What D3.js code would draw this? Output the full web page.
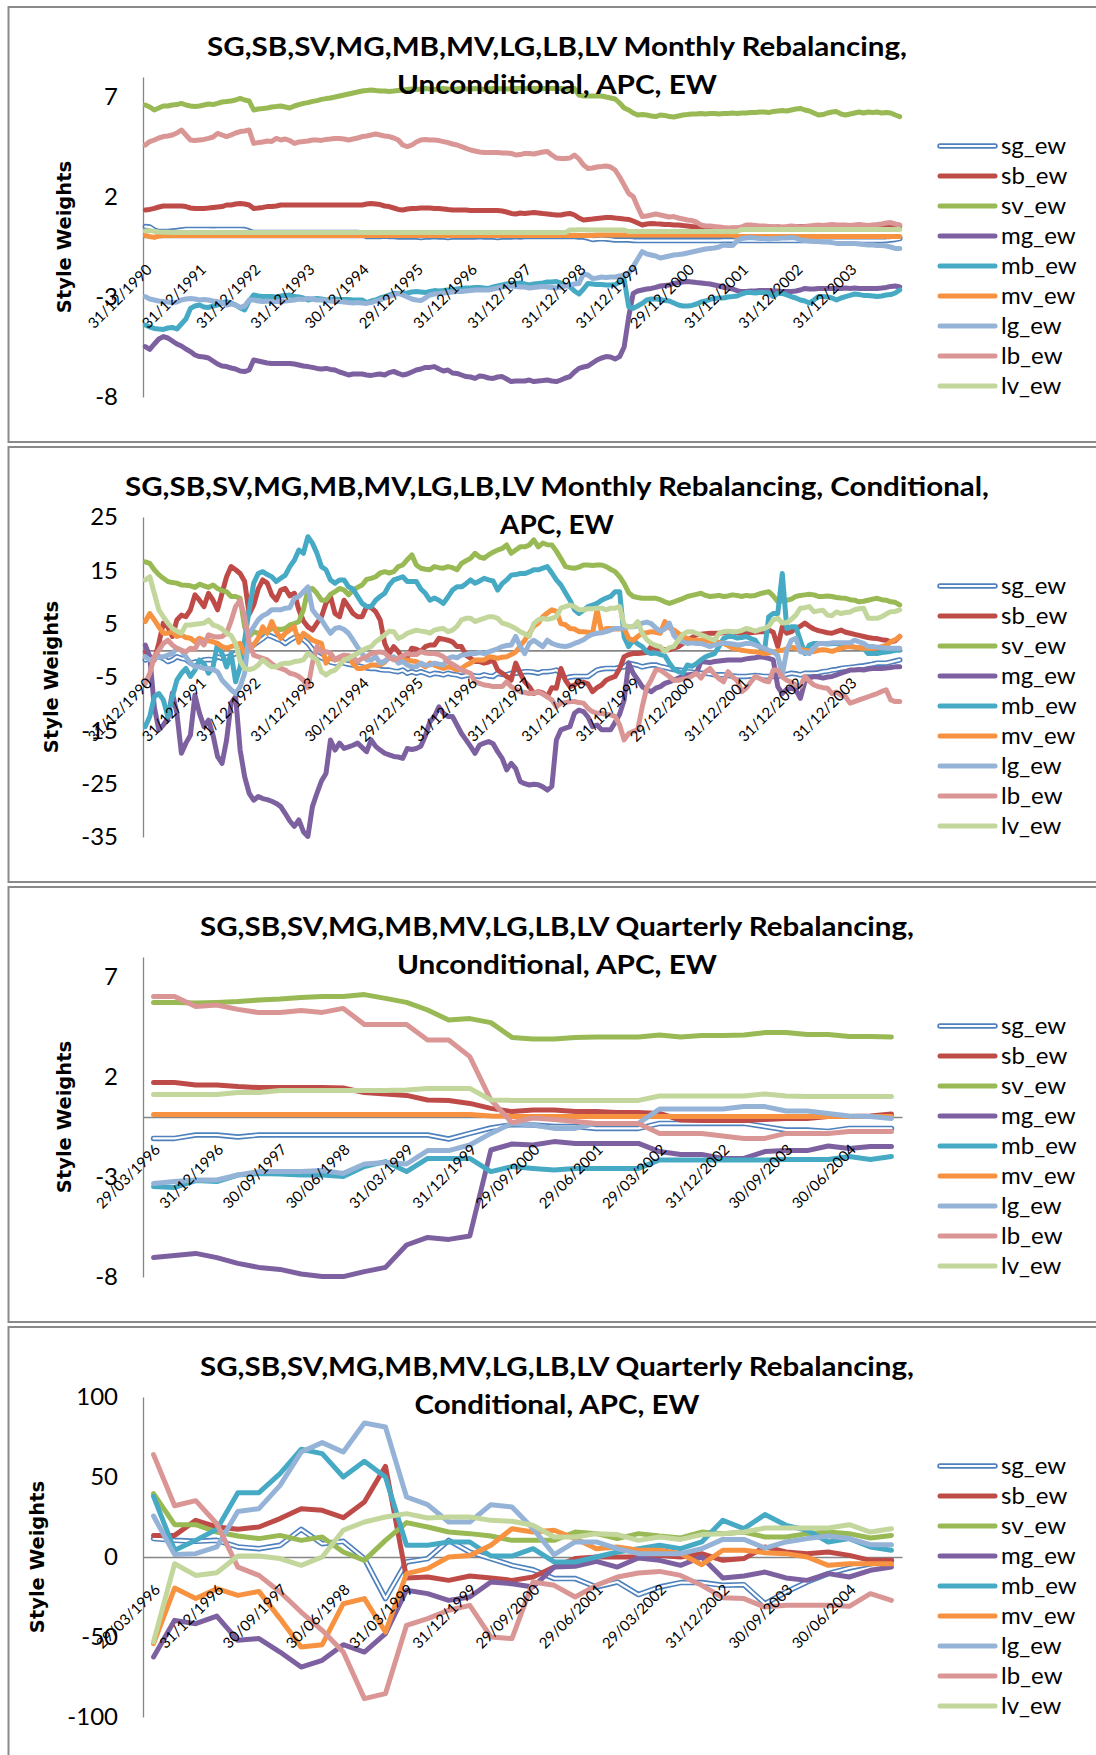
<!DOCTYPE html>
<html>
<head>
<meta charset="utf-8">
<script src="https://cdn.jsdelivr.net/npm/d3@7"></script>
<style>
  body { margin: 0; background: #fff; }
  svg { display: block; }
</style>
</head>
<body>
<svg id="chart" width="1096" height="1755"></svg>
<script>
// ---------- series names, colours, tick labels ----------
const seriesNames = ["sg_ew", "sb_ew", "sv_ew", "mg_ew", "mb_ew", "mv_ew", "lg_ew", "lb_ew", "lv_ew"];
const seriesColors = ["#4F81BD", "#BE4B48", "#98B954", "#7D60A0", "#46AAC5", "#F69240", "#95B3D7", "#D99694", "#C3D69B"];

const monthlyTickLabels = ["31/12/1990", "31/12/1991", "31/12/1992", "31/12/1993", "30/12/1994", "29/12/1995",
  "31/12/1996", "31/12/1997", "31/12/1998", "31/12/1999", "29/12/2000", "31/12/2001", "31/12/2002", "31/12/2003"];
const quarterlyTickLabels = ["29/03/1996", "31/12/1996", "30/09/1997", "30/06/1998", "31/03/1999", "31/12/1999",
  "29/09/2000", "29/06/2001", "29/03/2002", "31/12/2002", "30/09/2003", "30/06/2004"];

// ---------- monthly rebalancing, unconditional (Dec 1990 .. Nov 2004, one row per year) ----------
const mu_sg = [
  0.52,0.5,0.35,0.27,0.27,0.28,0.3,0.32,0.35,0.38,0.38,0.38,
  0.38,0.38,0.38,0.37,0.38,0.38,0.38,0.38,0.38,0.38,0.37,0.3,
  0.22,0.22,0.22,0.22,0.22,0.22,0.22,0.22,0.22,0.22,0.22,0.22,
  0.22,0.22,0.22,0.22,0.22,0.22,0.22,0.22,0.22,0.22,0.22,0.22,
  0.2,0.02,0.02,0.02,0.02,0.05,0.02,0.02,0,0,0,0,
  0,-0.02,0,0,0.02,0,0,-0.02,0,0,0,0,
  0,0,0.02,0,0,0,-0.02,0,0,0,0.02,0,
  0.02,0.02,0.02,0.02,0.02,0.02,0.02,0.02,0.02,0.02,0.02,0.02,
  0,0,-0.05,-0.12,-0.1,-0.08,-0.1,-0.12,-0.15,-0.15,-0.15,-0.15,
  -0.17,-0.18,-0.18,-0.18,-0.18,-0.18,-0.18,-0.18,-0.18,-0.18,-0.18,-0.18,
  -0.18,-0.18,-0.18,-0.18,-0.18,-0.18,-0.18,-0.18,-0.17,-0.17,-0.17,-0.18,
  -0.18,-0.18,-0.18,-0.18,-0.18,-0.18,-0.18,-0.18,-0.18,-0.18,-0.18,-0.18,
  -0.18,-0.18,-0.18,-0.18,-0.18,-0.18,-0.18,-0.18,-0.18,-0.18,-0.18,-0.18,
  -0.18,-0.18,-0.18,-0.18,-0.18,-0.18,-0.18,-0.18,-0.17,-0.15,-0.12,-0.08];
const mu_sb = [
  1.35,1.38,1.43,1.5,1.55,1.55,1.55,1.55,1.55,1.52,1.45,1.43,
  1.43,1.43,1.45,1.48,1.5,1.52,1.6,1.6,1.65,1.68,1.65,1.6,
  1.43,1.45,1.48,1.52,1.52,1.55,1.6,1.6,1.6,1.6,1.6,1.6,
  1.6,1.6,1.6,1.6,1.6,1.6,1.6,1.6,1.6,1.6,1.6,1.6,
  1.6,1.65,1.68,1.65,1.62,1.55,1.52,1.45,1.38,1.35,1.4,1.43,
  1.43,1.45,1.45,1.45,1.43,1.43,1.4,1.37,1.35,1.35,1.35,1.35,
  1.33,1.33,1.33,1.32,1.32,1.32,1.32,1.3,1.25,1.18,1.15,1.2,
  1.18,1.2,1.22,1.2,1.17,1.15,1.12,1.1,1.1,1.15,1.18,1.1,
  0.95,0.85,0.88,0.9,0.93,0.95,0.97,0.98,0.95,0.93,0.9,0.88,
  0.8,0.7,0.6,0.65,0.68,0.66,0.65,0.63,0.62,0.6,0.6,0.57,
  0.55,0.52,0.5,0.48,0.45,0.43,0.43,0.43,0.43,0.43,0.45,0.45,
  0.45,0.45,0.47,0.47,0.48,0.5,0.5,0.5,0.48,0.47,0.47,0.48,
  0.5,0.52,0.52,0.5,0.5,0.48,0.5,0.5,0.52,0.52,0.5,0.5,
  0.5,0.5,0.52,0.52,0.5,0.5,0.5,0.52,0.52,0.55,0.55,0.55];
const mu_sv = [
  6.6,6.5,6.35,6.45,6.55,6.55,6.6,6.62,6.68,6.6,6.55,6.52,
  6.55,6.6,6.65,6.62,6.68,6.75,6.77,6.8,6.85,6.93,6.85,6.8,
  6.35,6.4,6.42,6.45,6.5,6.52,6.55,6.5,6.45,6.55,6.62,6.68,
  6.72,6.78,6.82,6.88,6.92,6.95,7.0,7.05,7.1,7.15,7.2,7.25,
  7.3,7.33,7.35,7.32,7.3,7.3,7.28,7.3,7.33,7.35,7.38,7.4,
  7.38,7.4,7.42,7.4,7.38,7.4,7.42,7.4,7.38,7.4,7.42,7.4,
  7.4,7.42,7.4,7.38,7.4,7.42,7.4,7.42,7.4,7.42,7.42,7.43,
  7.43,7.42,7.43,7.42,7.43,7.42,7.42,7.43,7.42,7.4,7.42,7.42,
  7.1,7.05,7.05,7.05,7.05,7.05,7.0,6.95,6.9,6.7,6.45,6.35,
  6.2,6.1,6.12,6.1,6.05,6.02,6.1,6.08,6.02,6.0,6.05,6.1,
  6.12,6.15,6.15,6.18,6.15,6.18,6.18,6.15,6.18,6.18,6.2,6.18,
  6.2,6.2,6.22,6.22,6.25,6.25,6.22,6.28,6.3,6.32,6.3,6.35,
  6.4,6.43,6.35,6.3,6.2,6.1,6.12,6.2,6.25,6.27,6.15,6.1,
  6.15,6.2,6.25,6.2,6.25,6.22,6.25,6.2,6.22,6.2,6.1,6.02];
const mu_mg = [
  -5.48,-5.62,-5.35,-5.1,-4.98,-5.05,-5.2,-5.35,-5.45,-5.6,-5.73,-5.9,
  -5.98,-6.0,-6.05,-6.2,-6.35,-6.45,-6.48,-6.55,-6.6,-6.7,-6.73,-6.65,
  -6.15,-6.2,-6.25,-6.3,-6.32,-6.32,-6.32,-6.32,-6.32,-6.35,-6.4,-6.45,
  -6.48,-6.52,-6.57,-6.6,-6.57,-6.62,-6.65,-6.75,-6.82,-6.9,-6.85,-6.85,
  -6.85,-6.9,-6.92,-6.88,-6.85,-6.9,-6.78,-6.72,-6.82,-6.9,-6.85,-6.75,
  -6.65,-6.6,-6.52,-6.52,-6.48,-6.6,-6.7,-6.65,-6.8,-6.82,-6.9,-6.98,
  -7.0,-7.07,-6.95,-6.98,-7.05,-7.07,-7.0,-6.98,-7.1,-7.23,-7.2,-7.2,
  -7.2,-7.15,-7.23,-7.2,-7.18,-7.15,-7.2,-7.23,-7.15,-7.05,-6.98,-6.75,
  -6.57,-6.5,-6.45,-6.3,-6.15,-6.05,-5.98,-6.0,-6.1,-5.98,-5.5,-4.0,
  -2.82,-2.7,-2.65,-2.6,-2.57,-2.52,-2.45,-2.42,-2.4,-2.32,-2.28,-2.25,
  -2.23,-2.25,-2.28,-2.3,-2.33,-2.35,-2.4,-2.45,-2.52,-2.55,-2.6,-2.68,
  -2.73,-2.72,-2.7,-2.7,-2.68,-2.68,-2.67,-2.7,-2.7,-2.72,-2.73,-2.72,
  -2.7,-2.65,-2.57,-2.6,-2.6,-2.58,-2.57,-2.57,-2.57,-2.57,-2.57,-2.55,
  -2.57,-2.55,-2.57,-2.57,-2.57,-2.57,-2.57,-2.55,-2.52,-2.47,-2.45,-2.5];
const mu_mb = [
  -4.4,-4.5,-4.57,-4.6,-4.62,-4.55,-4.52,-4.6,-4.35,-4.1,-3.57,-3.45,
  -3.4,-3.5,-3.52,-3.45,-3.4,-3.3,-3.23,-3.3,-3.4,-3.55,-3.65,-3.2,
  -2.9,-2.95,-2.98,-2.97,-2.98,-3.0,-2.95,-2.92,-2.9,-2.98,-3.0,-3.05,
  -3.15,-3.1,-3.08,-3.1,-3.15,-3.12,-3.1,-3.12,-3.12,-3.13,-3.15,-3.15,
  -3.15,-3.28,-3.2,-3.15,-3.05,-2.98,-2.9,-2.82,-2.82,-2.82,-2.8,-2.75,
  -2.73,-2.75,-2.78,-2.72,-2.68,-2.7,-2.68,-2.65,-2.65,-2.6,-2.57,-2.55,
  -2.55,-2.52,-2.52,-2.55,-2.57,-2.5,-2.45,-2.4,-2.35,-2.32,-2.32,-2.3,
  -2.35,-2.4,-2.35,-2.32,-2.3,-2.25,-2.25,-2.23,-2.3,-2.4,-2.48,-2.7,
  -2.85,-2.6,-2.32,-2.35,-2.38,-2.38,-2.4,-2.4,-2.38,-2.25,-2.12,-3.48,
  -3.57,-3.45,-3.32,-3.15,-3.1,-3.1,-3.12,-3.18,-3.2,-3.3,-3.4,-3.45,
  -3.45,-3.42,-3.35,-3.25,-3.2,-3.12,-3.07,-3.05,-3.05,-3.0,-2.98,-2.95,
  -2.85,-2.78,-2.78,-2.8,-2.78,-2.78,-2.8,-2.98,-2.82,-2.82,-2.9,-2.98,
  -3.05,-3.15,-3.2,-3.3,-3.15,-2.98,-2.98,-3.0,-3.05,-3.15,-3.05,-2.98,
  -2.92,-2.85,-2.88,-2.92,-2.92,-2.95,-2.98,-2.95,-2.9,-2.88,-2.8,-2.65];
const mu_mv = [
  0.08,0.02,-0.02,0.05,0.08,0.08,0.08,0.08,0.08,0.08,0.08,0.08,
  0.08,0.08,0.08,0.08,0.08,0.08,0.08,0.08,0.08,0.08,0.08,0.08,
  0.08,0.08,0.08,0.08,0.08,0.08,0.08,0.08,0.08,0.08,0.08,0.08,
  0.08,0.08,0.08,0.08,0.08,0.08,0.08,0.08,0.08,0.08,0.08,0.08,
  0.08,0.08,0.08,0.08,0.08,0.08,0.08,0.08,0.08,0.08,0.08,0.08,
  0.08,0.08,0.08,0.08,0.08,0.08,0.08,0.08,0.08,0.08,0.08,0.08,
  0.08,0.08,0.08,0.08,0.08,0.08,0.08,0.08,0.08,0.08,0.08,0.08,
  0.08,0.08,0.08,0.08,0.08,0.08,0.08,0.08,0.08,0.08,0.08,0.08,
  0.08,0.08,0.08,0.08,0.1,0.1,0.1,0.1,0.1,0.1,0.1,0.1,
  0.1,0.1,0.1,0.1,0.1,0.1,0.1,0.1,0.1,0.1,0.1,0.1,
  0.1,0.1,0.1,0.1,0.1,0.1,0.1,0.1,0.1,0.1,0.1,0.02,
  0.02,0.02,0.02,0.02,0.02,0.02,0.02,0.02,0.02,0.02,0.02,0.02,
  0.02,0.02,0.02,0.02,0.02,0.02,0.02,0.02,0.02,0.02,0.02,0.02,
  0.02,0.02,0.02,0.02,0.02,0.02,0.02,0.02,0.02,0.02,0.02,0.02];
const mu_lg = [
  -2.98,-3.1,-3.15,-3.2,-3.23,-3.25,-3.28,-3.25,-3.15,-3.1,-3.07,-3.1,
  -3.15,-3.12,-3.15,-3.2,-3.23,-3.3,-3.4,-3.35,-3.4,-3.52,-3.45,-3.15,
  -3.15,-3.2,-3.23,-3.2,-3.22,-3.23,-3.23,-3.2,-3.18,-3.15,-3.1,-3.12,
  -3.07,-3.1,-3.15,-3.15,-3.18,-3.2,-3.22,-3.22,-3.25,-3.28,-3.3,-3.28,
  -3.3,-3.32,-3.28,-3.2,-3.15,-3.05,-2.98,-2.9,-2.82,-2.9,-3.0,-3.1,
  -3.15,-3.18,-3.05,-2.9,-2.85,-2.82,-2.8,-2.78,-2.75,-2.73,-2.72,-2.7,
  -2.68,-2.65,-2.65,-2.65,-2.65,-2.6,-2.55,-2.5,-2.45,-2.45,-2.48,-2.5,
  -2.5,-2.55,-2.52,-2.5,-2.48,-2.5,-2.52,-2.55,-2.5,-2.45,-2.4,-2.35,
  -2.32,-1.85,-1.9,-2.07,-2.05,-2.0,-2.02,-2.0,-2.0,-1.95,-1.9,-1.82,
  -1.48,-1.1,-0.73,-0.85,-0.9,-0.95,-1.05,-1.0,-0.95,-0.9,-0.88,-0.85,
  -0.8,-0.75,-0.7,-0.65,-0.6,-0.57,-0.55,-0.5,-0.4,-0.42,-0.43,-0.2,
  -0.07,-0.05,-0.03,-0.05,-0.07,-0.08,-0.1,-0.08,-0.07,-0.05,-0.05,-0.03,
  -0.05,-0.15,-0.18,-0.2,-0.22,-0.22,-0.25,-0.25,-0.28,-0.32,-0.32,-0.32,
  -0.32,-0.33,-0.35,-0.38,-0.4,-0.4,-0.42,-0.43,-0.45,-0.5,-0.57,-0.57];
const mu_lb = [
  4.6,4.77,4.85,4.95,5.02,5.05,5.1,5.2,5.35,5.1,4.85,4.82,
  4.85,4.88,4.93,5.0,5.18,5.1,5.02,5.1,5.2,5.27,5.3,5.35,
  4.68,4.72,4.75,4.8,4.78,4.93,4.85,4.9,4.82,4.68,4.75,4.77,
  4.8,4.85,4.85,4.83,4.88,4.9,4.93,4.92,4.9,4.85,4.9,4.95,
  5.02,5.05,5.1,5.15,5.1,5.05,5.02,4.95,4.85,4.6,4.52,4.6,
  4.75,4.85,4.88,4.85,4.85,4.82,4.77,4.72,4.65,4.6,4.52,4.43,
  4.35,4.3,4.25,4.22,4.22,4.22,4.22,4.2,4.2,4.18,4.1,4.12,
  4.18,4.18,4.15,4.2,4.25,4.27,4.1,3.95,3.93,3.93,3.95,4.1,
  3.9,3.6,3.43,3.45,3.5,3.52,3.55,3.5,3.35,3.0,2.6,2.18,
  2.02,1.5,1.02,1.05,1.1,1.15,1.1,1.05,1.0,1.02,0.95,0.9,
  0.85,0.82,0.75,0.6,0.55,0.55,0.52,0.5,0.47,0.45,0.43,0.45,
  0.5,0.6,0.6,0.58,0.55,0.55,0.52,0.5,0.52,0.5,0.52,0.55,
  0.52,0.5,0.52,0.55,0.58,0.6,0.58,0.6,0.62,0.6,0.6,0.6,
  0.58,0.6,0.62,0.6,0.58,0.6,0.62,0.65,0.7,0.72,0.65,0.6];
const mu_lv = [
  0.3,0.32,0.28,0.25,0.24,0.24,0.23,0.23,0.23,0.23,0.23,0.23,
  0.23,0.23,0.23,0.23,0.23,0.23,0.23,0.23,0.23,0.23,0.23,0.23,
  0.23,0.23,0.23,0.23,0.23,0.23,0.23,0.23,0.23,0.23,0.23,0.23,
  0.23,0.23,0.23,0.23,0.23,0.23,0.23,0.23,0.23,0.23,0.23,0.23,
  0.23,0.23,0.23,0.23,0.23,0.23,0.23,0.23,0.23,0.23,0.23,0.23,
  0.23,0.23,0.23,0.23,0.23,0.23,0.23,0.23,0.23,0.23,0.23,0.23,
  0.23,0.23,0.23,0.23,0.23,0.23,0.23,0.23,0.23,0.23,0.23,0.23,
  0.22,0.22,0.22,0.22,0.22,0.22,0.22,0.22,0.22,0.22,0.35,0.35,
  0.36,0.36,0.35,0.35,0.35,0.35,0.35,0.35,0.35,0.35,0.35,0.27,
  0.27,0.27,0.27,0.27,0.27,0.27,0.27,0.27,0.27,0.27,0.27,0.27,
  0.27,0.27,0.27,0.27,0.27,0.27,0.27,0.27,0.27,0.27,0.27,0.27,
  0.38,0.38,0.38,0.38,0.38,0.38,0.38,0.38,0.38,0.38,0.38,0.38,
  0.38,0.38,0.38,0.38,0.38,0.38,0.38,0.38,0.38,0.38,0.38,0.38,
  0.38,0.38,0.38,0.38,0.38,0.38,0.38,0.38,0.38,0.38,0.38,0.38];

// ---------- monthly rebalancing, conditional ----------
const mc_sg = [
  -1.8,-1.5,-1.3,-1.2,-1.5,-2.1,-1.8,-1.2,-1.5,-1.7,-2.4,-2.2,
  -2.1,-1.8,-1.7,-1.8,-1.2,-1.5,-1.3,-1.0,-0.6,-0.3,0,0.4,
  1.0,1.6,2.2,2.9,2.6,2.2,1.9,1.3,1.9,2.4,2.6,2.0,
  1.3,0.2,-0.9,-1.4,-1.8,-2.2,-2.4,-2.2,-2.4,-2.6,-2.75,-2.9,
  -3.1,-3.3,-3.4,-3.4,-3.6,-3.7,-3.7,-3.9,-4.0,-3.7,-4.3,-4.0,
  -4.3,-4.0,-4.3,-4.6,-4.3,-4.4,-4.6,-4.3,-4.5,-4.6,-4.9,-4.7,
  -4.6,-4.8,-4.9,-4.6,-4.8,-4.9,-4.3,-4.5,-4.6,-4.3,-4.3,-4.2,
  -4.0,-4.0,-4.1,-4.3,-4.0,-4.0,-3.9,-3.7,-4.3,-5.25,-5.0,-4.9,
  -4.9,-4.9,-4.9,-4.3,-3.7,-3.5,-3.4,-3.4,-3.4,-3.2,-3.1,-2.4,
  -2.6,-2.8,-3.1,-2.9,-2.75,-2.75,-3.0,-3.2,-3.4,-3.6,-3.7,-3.8,
  -4.0,-4.1,-4.2,-4.3,-4.3,-4.4,-4.6,-4.6,-4.6,-4.7,-4.8,-4.9,
  -4.9,-4.9,-4.8,-4.7,-4.8,-4.9,-4.9,-4.9,-4.9,-4.6,-4.5,-4.3,
  -4.4,-4.6,-4.3,-4.3,-4.3,-4.2,-4.0,-3.9,-3.7,-3.6,-3.4,-3.3,
  -3.2,-3.1,-3.0,-2.9,-2.75,-2.6,-2.4,-2.4,-2.4,-2.2,-2.0,-1.8];
const mc_sb = [
  -0.25,-1.2,-1.8,1.3,5.1,4.4,2.6,5.7,6.6,6.3,7.6,10.4,
  9.4,8.2,10.7,9.4,7.6,10.7,13.8,15.7,15.1,14.4,12.9,6.8,
  8.5,11.5,13.2,12.6,10.4,9.4,11.3,11.6,10.2,10.7,7.6,5.5,
  4.4,3.8,5.1,6.3,8.8,10.1,6.9,6.3,9.4,8.2,6.9,6.3,
  6.3,8.2,8.0,7.25,5.7,1.3,-0.6,0.7,-0.25,-1.5,-1.3,0.4,
  0.2,-0.2,0.7,1.0,1.0,2.25,2.1,1.9,1.6,0.7,0.7,-0.9,
  -1.5,-2.1,-2.1,-2.4,-2.2,-1.8,-3.7,-4.3,-4.9,-5.6,-2.4,-4.3,
  -5.9,-6.8,-8.1,-7.75,-8.0,-8.7,-7.0,-7.1,-3.4,-5.6,-6.8,-6.5,
  -5.9,-6.0,-6.3,-7.75,-7.0,-6.5,-5.6,-5.2,-4.9,-3.4,-1.2,-0.8,
  -0.6,-0.6,-0.5,-0.4,0.7,0.4,0.3,0.1,0.1,0.4,0.7,1.3,
  1.9,2.4,2.9,3.0,3.1,3.2,3.2,3.2,3.3,3.5,3.4,3.3,
  3.2,3.2,3.3,3.4,3.5,3.5,3.8,3.4,0.7,4.4,3.2,3.5,
  4.1,4.5,5.1,4.5,4.0,3.7,3.5,3.3,3.2,3.5,3.8,3.4,
  3.2,3.0,2.8,2.6,2.4,2.25,2.2,2.0,1.9,1.6,1.8,2.6];
const mc_sv = [
  16.6,16.3,15.1,14.2,13.5,12.9,12.7,12.6,12.25,12.2,12.1,11.8,
  12.4,12.1,11.8,12.25,11.6,11.2,11,10.1,10.1,9.75,4.4,2.6,
  3.5,3.2,3.4,3.5,4.1,4.0,3.9,4.1,4.75,5.0,5.4,7.6,
  11.3,11.6,10.7,9.4,9.4,10.5,11,11.6,11.3,10.4,11.3,11.8,
  12.25,13.3,13.5,13.8,14.5,14.75,14.5,14.75,15.7,16,17,17.9,
  16,15.4,15.2,15.1,15.7,15.5,15.4,15.7,15.5,15.1,16.3,16.8,
  17.25,18.2,17.5,17.25,17.9,18.4,18.8,19.1,19.75,18.2,18.8,19.4,
  19.4,19.75,20.7,19.4,20.1,19.8,19.75,18.6,17.2,15.7,15.5,15.4,
  15.6,16,16,15.9,16,16,15.7,15.2,14.75,13.8,12.5,10.8,
  10.1,9.9,9.75,9.75,9.75,9.75,9.5,9.1,8.8,9.1,9.4,9.7,
  10.1,10.3,10.5,10.7,10.3,10.1,10.2,10.3,10.1,10.2,10.4,10.3,
  10.1,10.3,10.2,10.3,10.6,10.8,11,10.2,9.1,9.3,9.4,9.6,
  10.1,10.3,10.4,10.5,10.4,10.1,10.1,10.2,10.1,9.9,9.8,9.75,
  9.5,9.4,9.1,9.2,9.4,9.6,9.75,9.5,9.4,9.1,9,8.5];
const mc_mg = [
  1,-1.2,-10.6,-14.9,-14,-12.75,-8,-11.8,-19.3,-17.4,-15.9,-8.4,
  -11.8,-14.3,-13.1,-15.9,-19.9,-21.2,-16.8,-9.9,-8.7,-18.7,-23.7,-26.8,
  -28.1,-27.4,-27.8,-28,-28.3,-28.7,-29.3,-30.6,-32,-33,-31.8,-34,
  -34.9,-29.3,-26.8,-24.5,-23.1,-16.8,-18.7,-17.4,-18.4,-18.1,-17.8,-17.4,
  -18.2,-19,-16.8,-18,-18.7,-19.3,-19.6,-19.9,-20,-20.25,-18.4,-18.6,
  -18.4,-18,-16,-13.4,-12.4,-10.6,-11.8,-12.4,-12.4,-14,-15.6,-16.8,
  -18,-19.3,-17.75,-17.4,-17.1,-17.5,-19,-20.25,-22.4,-21.2,-22.2,-24.6,
  -25,-25.25,-25.1,-25.2,-25.6,-26.2,-25.5,-16.8,-14.9,-14.6,-14.3,-11.8,
  -11.2,-11.5,-12.5,-14.3,-14,-14.9,-14.9,-14.9,-13.5,-12,-9.3,-2.4,
  -4.3,-5.5,-6.8,-7.4,-7.75,-7.1,-6.8,-6.2,-5.9,-5.6,-5.2,-4.9,
  -4.6,-4.5,-4.3,-2.1,-2.2,-2.3,-2.1,-2,-1.9,-1.8,-1.8,-1.8,
  -1.8,-1.6,-1.5,-1.4,-1.2,-1.3,-1.5,-1.8,-6.8,-8.1,-7.3,-7.1,
  -7.4,-9,-5.9,-5.2,-4.9,-5,-5.2,-5,-4.9,-4.6,-4.3,-4,
  -3.7,-3.7,-3.6,-3.7,-3.5,-3.4,-3.4,-3.4,-3.3,-3.2,-3.1,-3.1];
const mc_mb = [
  -14.3,-12.4,-8.7,-8.1,-9.3,-12.4,-8.7,-5.6,-4.3,-3.4,-4.9,-3.7,
  -1.8,-2.5,-4.3,-3.1,1.3,-0.6,-3.1,-0.6,-5.9,-3.1,1.9,7.6,
  12.6,14.4,14.75,14.2,13.8,12.9,13.5,14.1,15.7,16.9,18.8,18.2,
  21.3,20.1,18.2,15.7,15.1,13.2,12.6,13.2,13.2,11.9,11.5,10.1,
  8.8,8.2,8.2,9.4,10.1,10.7,12.25,13.2,13.5,13.8,12.9,12.9,
  12.9,11.5,10.7,9.4,9.8,9.4,8.8,10,11.3,11.9,11.9,12.5,
  13.2,12.6,13.0,13.5,13.2,13.0,11.3,12.5,13.2,14.1,14.2,14.4,
  14.4,14.7,15.1,15.1,15.4,15.7,14.5,13.2,12.25,10.8,9.4,7.6,
  6.9,7.5,8.2,8.5,8.8,9.4,9.8,10.1,11,11,2.5,0.7,
  1.9,1.2,0.7,-0.3,-0.6,-0.5,-0.8,-1.0,-2.4,-3.5,-4.0,-4.3,
  -2.75,-3.0,-2.5,-1.8,-1.2,-0.9,-0.6,0.7,2.2,2.6,2.6,2.3,
  2.4,2.6,2.2,1.9,0.7,-0.6,6.3,6.9,6.9,14.4,4.1,4.4,
  4.4,1.9,-0.6,1.0,1.3,1.3,1.3,1.2,1.3,1.3,1.0,0.8,
  0.7,0.6,0.5,0.4,-0.6,-0.6,-0.6,-0.4,-0.3,-0.2,0,0];
const mc_mv = [
  5.4,6.9,5.7,4.4,3.2,3.2,3.5,2.6,2.9,2.4,2.25,1.6,
  2.25,1.9,1.8,1.6,1.3,0.7,0.4,0.7,1.0,1.3,-0.6,0.0,
  1.0,2.25,4.4,3.2,5.4,3.5,2.25,3.2,3.8,4.4,1.5,3.2,
  2.6,1.9,1.6,1.3,-2.4,-1.2,-1.8,-1.5,-1.4,-1.2,-2.5,-3.4,
  -3.4,-3.1,-2.75,-2.75,-2.75,-2.2,-1.2,-1.5,-1.5,-1.8,-1.8,-2.0,
  -2.1,-2.6,-3.1,-2.4,-2.8,-3.1,-3.4,-3.1,-3.3,-3.7,-3.4,-2.8,
  -2.4,-1.8,-1.8,-1.8,-1.2,-1.3,-1.5,-1.3,-1.2,-0.8,-0.3,0.8,
  1.9,3.2,4.5,5.1,6.3,7.0,7.6,7.3,5.0,4.8,4.1,4.0,
  3.5,3.5,3.4,3.2,7.6,3.5,4.1,4.1,4.0,4.0,4.1,2.25,
  1.9,2.6,3.2,3.3,3.5,3.4,3.2,5.4,4.2,3.8,3.2,2.6,
  2.2,1.9,1.9,1.9,1.8,1.7,1.6,1.5,1.3,0.9,0.4,0.3,
  0,-0.1,-0.2,-0.25,-0.4,-0.6,-0.5,-0.3,-0.1,0,0.3,0.6,
  0.4,0.2,0,-0.1,-0.25,0,0.1,0,-0.2,0.1,0.4,0.6,
  0.7,0.6,0.5,0.4,0.4,0.4,0.5,0.7,0.9,1.6,2.0,2.6];
const mc_lg = [
  -1.2,-1.8,-1.5,-1.3,-1.2,-0.9,-0.6,0.4,0,-1.2,-2.4,-3.1,
  -3.1,-3.4,-3.4,-3.6,-4.0,-5.6,-6.5,-7.4,-8.1,-6.8,-4.3,3.2,
  4.4,5.7,6.5,6.9,7.6,7.6,7.6,7.9,8.0,9.75,10.1,11.0,
  11.9,7.6,6.5,5.7,4.4,3.2,4.1,4.3,3.9,3.2,1.9,0.6,
  -0.6,-1.8,-1.8,-1.2,-2.4,-2.0,-1.5,-1.2,-2.4,-2.1,-2.75,-3.1,
  -3.1,-2.4,-2.8,-2.75,-2.4,-2.6,-2.75,-1.5,-1.2,-1.4,-0.9,-0.8,
  -0.6,-0.6,-0.4,-0.6,-0.3,0,0.3,0.7,0.9,1.0,2.6,0.7,
  -0.6,1.3,1.9,1.3,0.7,1.9,1.3,1.0,0.8,0.7,0.9,1.3,
  1.6,2.0,2.6,3.0,3.2,3.3,3.5,3.8,4.1,4.1,4.2,4.4,
  4.4,4.6,5.1,5.3,5.0,4.2,3.6,4.0,5.1,2.8,1.8,1.6,
  1.3,1.4,1.3,1.3,1.0,0.7,1.0,1.2,1.4,1.3,1.2,1.0,
  1.1,1.3,1.3,1.0,0.7,0.4,0.0,-0.3,-1.0,-4.6,0.0,1.9,
  2.25,-0.25,-0.4,-0.6,0.4,1.3,1.3,1.3,1.4,1.4,1.4,1.4,
  1.4,1.9,1.6,1.3,0.7,0.7,0.6,0.5,0.4,0.4,0.4,0.4];
const mc_lb = [
  -6.2,-4.3,-1.2,0,1.3,1.9,1.0,0.4,0,-0.25,0.4,0.2,
  1.9,1.0,2.9,2.6,2.5,2.6,3.2,5.5,8.2,9.4,6.3,1.5,
  -0.9,-1.2,-1.5,-1.8,-2.5,-3.1,-3.4,-3.7,-4.3,-4.5,-4.9,-5.6,
  -7.0,-2.4,0.7,-0.3,-0.25,-0.5,-1.8,-1.2,-0.9,-1.0,-1.3,-2.1,
  -1.5,-1.2,-0.6,-0.4,-0.3,-0.5,-1.3,-1.8,-1.5,-1.0,-0.6,-0.8,
  -0.8,-0.25,-0.5,-0.6,-0.6,-0.8,-1.2,-2.1,-2.6,-3.1,-3.7,-4.0,
  -4.3,-5.9,-6.2,-6.5,-6.6,-6.8,-6.8,-6.8,-5.9,-6.8,-7.3,-7.75,
  -7.9,-8.1,-8.0,-7.8,-8.2,-8.7,-9.3,-10.6,-9.9,-9.8,-9.6,-9.6,
  -9.8,-9.9,-10.9,-11.5,-11.8,-11.8,-12.0,-12.1,-12.4,-14.0,-16.8,-15.6,
  -15.2,-14.9,-10.6,-7.0,-5.5,-3.7,-3.7,-4.3,-4.9,-5.6,-5.6,-5.4,
  -5.25,-4.8,-4.3,-5.2,-4.0,-3.4,-4.5,-5.3,-5.9,-4.0,-5.0,-5.6,
  -7.75,-7.1,-6.0,-4.9,-5.3,-5.7,-5.9,-3.7,-3.7,-5.0,-5.6,-6.0,
  -6.5,-6.8,-4.9,-5.8,-6.5,-6.8,-7.0,-7.1,-8.1,-7.8,-8.4,-8.7,
  -9.9,-9.6,-9.3,-9.0,-8.7,-8.4,-8.1,-7.7,-7.4,-9.3,-9.6,-9.6];
const mc_lv = [
  13.2,13.8,10.7,7.6,6.3,5.1,4.1,3.6,3.2,4.75,4.75,4.9,
  5.0,5.1,5.7,4.75,4.5,4.0,3.2,2.8,1.2,-2.0,-3.4,-3.6,
  -3.4,-2.75,-1.8,-2.5,-3.1,-3.1,-2.6,-2.4,-2.4,-2.1,-2.0,-1.8,
  -0.6,-1.2,-1.8,-4.0,-4.6,-4.0,-3.7,-2.75,-1.8,-1.5,-1.0,-0.6,
  0,0.4,0.7,1.6,2.2,2.9,3.6,3.5,2.25,2.6,3.2,3.5,
  3.8,3.6,3.5,3.2,3.8,4.0,4.1,3.5,3.8,4.5,5.7,6.0,
  6.0,5.4,5.7,6.0,6.3,6.3,6.0,5.1,4.9,4.5,4.1,3.5,
  3.1,2.6,5.0,5.7,6.0,5.8,6.0,6.3,7.9,8.2,8.5,8.2,
  7.6,7.6,7.8,7.8,7.9,7.9,7.6,7.9,7.9,8.2,4.75,4.4,
  4.4,5.4,3.2,2.0,1.3,0.9,0.7,-0.25,0.5,0.7,1.9,3.0,
  3.5,3.5,3.2,2.9,2.6,2.2,1.9,3.2,3.5,3.6,3.5,3.5,
  3.7,4.1,3.9,3.6,3.9,4.1,4.5,5.7,6.0,5.1,5.2,5.8,
  6.6,7.9,8.0,8.2,7.25,7.4,7.5,6.6,6.5,7.2,6.9,7.1,
  7.2,7.6,7.8,7.9,6.0,6.0,6.0,6.3,6.8,7.25,7.3,7.6];

// ---------- quarterly rebalancing, unconditional (Q1 1996 .. Q4 2004) ----------
const qu_sg = [-1.07,-1.07,-0.9,-0.9,-1.0,-0.9,-0.9,-0.9,-0.9,-0.9,-0.9,-0.9,
  -0.9,-0.9,-1.1,-0.82,-0.55,-0.38,-0.4,-0.48,-0.48,-0.57,-0.57,-0.57,
  -0.32,-0.32,-0.32,-0.32,-0.32,-0.48,-0.65,-0.65,-0.72,-0.57,-0.57,-0.57];
const qu_sb = [1.72,1.72,1.6,1.6,1.52,1.47,1.47,1.48,1.48,1.45,1.22,1.15,
  1.08,0.85,0.82,0.68,0.43,0.27,0.35,0.35,0.27,0.27,0.22,0.22,
  0.18,-0.15,-0.18,-0.18,-0.18,-0.12,-0.07,-0.07,0.02,0.02,0.05,0.15];
const qu_sv = [5.72,5.72,5.7,5.73,5.77,5.85,5.9,5.98,6.02,6.02,6.12,5.93,
  5.73,5.35,4.85,4.92,4.72,3.98,3.9,3.9,3.98,4.0,4.0,4.0,
  4.1,4.0,4.08,4.08,4.1,4.22,4.22,4.12,4.12,4.02,4.02,4.0];
const qu_mg = [-7.03,-6.93,-6.82,-7.03,-7.32,-7.52,-7.62,-7.85,-7.98,-7.98,-7.73,-7.52,
  -6.4,-6.02,-6.12,-5.95,-1.65,-1.35,-1.4,-1.23,-1.32,-1.32,-1.32,-1.32,
  -1.73,-1.87,-1.87,-2.07,-2.07,-1.73,-1.68,-1.68,-1.45,-1.57,-1.48,-1.48];
const qu_mb = [-3.48,-3.52,-3.18,-3.23,-2.9,-2.82,-2.85,-2.9,-2.9,-2.98,-2.48,-2.23,
  -2.73,-2.07,-2.07,-2.07,-2.73,-2.48,-2.57,-2.65,-2.57,-2.57,-2.57,-2.57,
  -2.15,-2.15,-2.15,-2.15,-2.15,-2.15,-2.12,-2.12,-2.12,-1.98,-2.12,-1.98];
const qu_mv = [0.13,0.13,0.13,0.13,0.13,0.13,0.13,0.13,0.13,0.13,0.13,0.13,
  0.13,0.13,0.13,0.13,0.05,0.03,0.03,0.03,0.03,0.03,0.03,0.03,
  0.03,0.03,0.03,0.03,0.03,0.03,0.03,0.03,0.03,0.03,0.03,0.03];
const qu_lg = [-3.32,-3.23,-3.15,-3.15,-2.9,-2.73,-2.73,-2.73,-2.68,-2.82,-2.35,-2.28,
  -2.35,-1.68,-1.68,-1.4,-0.82,-0.32,-0.4,-0.57,-0.57,-0.32,-0.32,-0.32,
  0.4,0.4,0.4,0.4,0.52,0.52,0.3,0.3,0.18,0.05,0.02,-0.07];
const qu_lb = [6.02,6.02,5.52,5.6,5.38,5.22,5.22,5.32,5.23,5.43,4.63,4.63,
  4.63,3.85,3.85,3.02,0.85,-0.28,-0.05,-0.12,-0.23,-0.32,-0.32,-0.32,
  -0.82,-0.82,-0.82,-0.95,-1.07,-1.07,-0.82,-0.82,-0.82,-0.73,-0.73,-0.73];
const qu_lv = [1.13,1.13,1.13,1.13,1.22,1.23,1.32,1.32,1.32,1.32,1.33,1.33,
  1.35,1.43,1.43,1.43,0.85,0.83,0.83,0.83,0.83,0.83,0.83,0.83,
  1.05,1.05,1.05,1.05,1.05,1.15,1.05,1.02,1.02,1.02,1.02,1.02];

// ---------- quarterly rebalancing, conditional ----------
const qc_sg = [11.5,10.4,9.8,10.4,6.3,5.2,7.3,17.3,8.3,9.8,-1,-26,
  -3.1,-1,10.4,3.1,-1,-5.2,-8,-13.5,-13.5,-18.75,-15.6,-23.5,
  -18.75,-16,-16,-17.7,-17.3,-29.2,-21.9,-15.6,-10.4,-6.9,-4.2,-2.1];
const qc_sb = [13.5,13.5,22.9,18.75,17.3,18.75,24,30.2,29.2,24.6,34.4,56.7,
  -13.1,-12.5,-14.6,-11.9,-13.1,-14.6,-12.5,-6.3,-1,0,0,0,
  1,0,2.1,-2.1,-1,6.3,3.1,2.1,3.1,1,-2.1,-2.1];
const qc_sv = [39.6,20.2,20.2,15.6,13.1,11.5,13.5,10.4,12.5,3.1,-2.1,10.4,
  21.5,18.75,15.6,14.6,13.1,10.4,10.4,10.4,15.6,14.6,11.5,14.6,
  13.1,11.9,15.6,14.6,15.6,12.5,12.5,14.6,15.6,14.6,11.9,13.5];
const qc_mg = [-62.5,-39.6,-41.7,-36.9,-52.1,-51,-59.4,-68.8,-64.6,-54.8,-59.4,-47.9,
  -20.8,-22.9,-27.1,-25,-15.6,-16.7,-18.75,-6.3,-5.8,-2.7,-6.3,-0.6,
  -2.1,-5.2,0,-13.1,-11.9,-9.4,-13.1,-14.6,-10.4,-12.5,-8.3,-6.3];
const qc_mb = [37.9,4.2,10.4,17.3,40.2,40.2,52.1,67.3,64.6,50,59.8,50,
  7.3,7.3,9.4,9.4,0.6,0.6,5.2,-3.1,-3.1,0,3.1,5.2,
  7.3,5.2,9.4,22.9,17.7,26.5,19.8,16.7,9.4,11.5,6.3,4.2];
const qc_mv = [-54.2,-19.4,-26,-19.8,-24,-21.5,-38.5,-56.3,-54.8,-29.2,-26,-46.9,
  -10.4,-7.3,0,1,7.3,17.7,15.6,16.7,11.5,5.2,6.3,4.2,
  4.2,2.1,-4.8,4.2,4.2,2.7,2.1,0,-5.2,-4.2,-4.2,-4.2];
const qc_lg = [25.6,1.5,2.1,6.3,28.5,30.2,44.8,65.6,71.5,65.6,83.8,81.3,
  37.5,32.7,21.9,21.9,32.7,31.3,17.7,1.5,9.4,9.4,5.2,2.1,
  2.1,2.1,5.2,11,11,5.6,9.4,11.5,13.1,11.5,7.7,7.7];
const qc_lb = [64,32,35.2,20.8,-6.3,-11.5,-21.9,-34.4,-45.8,-59.4,-88.5,-85.4,
  -42.7,-38.5,-33.3,-30.2,-50,-51,-15.6,-17.7,-25,-17.7,-12.5,-10,
  -9,-11.5,-17.7,-25.4,-26,-31.3,-30.2,-30.2,-30.2,-30.8,-22.9,-27.1];
const qc_lv = [-53.1,-4.2,-11.5,-9.8,0.6,0.6,-1,-5.2,0,16.7,21.9,25,
  27.1,24.4,25,25,22.9,22.3,19.8,12.5,12.5,14.6,14,10.4,
  12.5,11,14,14.6,15.6,18.1,18.1,18.1,18.1,20.2,15.6,17.7];

// ---------- panel definitions ----------
const panels = [
  { title: ["SG,SB,SV,MG,MB,MV,LG,LB,LV Monthly Rebalancing,", "Unconditional, APC, EW"], titleWidths: [700, 320],
    data: [mu_sg, mu_sb, mu_sv, mu_mg, mu_mb, mu_mv, mu_lg, mu_lb, mu_lv],
    tickLabels: monthlyTickLabels, tickStep: 12, yDomain: [-8, 8], yTicks: [-8, -3, 2, 7], yTitleX: 64 },
  { title: ["SG,SB,SV,MG,MB,MV,LG,LB,LV Monthly Rebalancing, Conditional,", "APC, EW"], titleWidths: [864, 114],
    data: [mc_sg, mc_sb, mc_sv, mc_mg, mc_mb, mc_mv, mc_lg, mc_lb, mc_lv],
    tickLabels: monthlyTickLabels, tickStep: 12, yDomain: [-35, 25], yTicks: [-35, -25, -15, -5, 5, 15, 25], yTitleX: 51 },
  { title: ["SG,SB,SV,MG,MB,MV,LG,LB,LV Quarterly Rebalancing,", "Unconditional, APC, EW"], titleWidths: [714, 320],
    data: [qu_sg, qu_sb, qu_sv, qu_mg, qu_mb, qu_mv, qu_lg, qu_lb, qu_lv],
    tickLabels: quarterlyTickLabels, tickStep: 3, yDomain: [-8, 8], yTicks: [-8, -3, 2, 7], yTitleX: 64 },
  { title: ["SG,SB,SV,MG,MB,MV,LG,LB,LV Quarterly Rebalancing,", "Conditional, APC, EW"], titleWidths: [714, 285],
    data: [qc_sg, qc_sb, qc_sv, qc_mg, qc_mb, qc_mv, qc_lg, qc_lb, qc_lv],
    tickLabels: quarterlyTickLabels, tickStep: 3, yDomain: [-100, 100], yTicks: [-100, -50, 0, 50, 100], yTitleX: 37 }
];

// ---------- layout ----------
const panelTops = [7, 447, 887, 1327];
const panelHeight = 435;
const plotLeft = 143, plotRight = 902;
const plotTopOffset = 70, plotBottomOffset = 390;
const axisGrey = "#868686";
const lineWidth = 5;

const svg = d3.select("#chart");

// plain series use one stroke; the first series is drawn as a hollow double line
function drawSeriesPath(g, d, color, isDouble) {
  if (isDouble) {
    g.append("path").attr("d", d).attr("fill", "none").attr("stroke", color)
      .attr("stroke-width", 5.5).attr("stroke-linejoin", "round").attr("stroke-linecap", "round");
    g.append("path").attr("d", d).attr("fill", "none").attr("stroke", "#fff")
      .attr("stroke-width", 2.2).attr("stroke-linejoin", "round").attr("stroke-linecap", "round");
  } else {
    g.append("path").attr("d", d).attr("fill", "none").attr("stroke", color)
      .attr("stroke-width", lineWidth).attr("stroke-linejoin", "round").attr("stroke-linecap", "round");
  }
}

panels.forEach((p, k) => {
  const top = panelTops[k];
  const g = svg.append("g");

  // chart frame
  g.append("rect").attr("x", 8.5).attr("y", top).attr("width", 1200).attr("height", panelHeight)
    .attr("fill", "#fff").attr("stroke", "#8a8a8a").attr("stroke-width", 2);

  const n = p.data[0].length;
  const x = d3.scaleBand().domain(d3.range(n)).range([plotLeft, plotRight]);
  const cx = i => x(i) + x.bandwidth() / 2;
  const y = d3.scaleLinear().domain(p.yDomain).range([top + plotBottomOffset, top + plotTopOffset]);

  const yAxis = d3.axisLeft(y).tickValues(p.yTicks).tickSize(0).tickPadding(25).tickFormat(d => String(d));
  const xAxis = d3.axisBottom(x).tickValues(d3.range(0, n, p.tickStep))
    .tickFormat(i => p.tickLabels[i / p.tickStep]).tickSize(0).tickSizeOuter(0);

  // axis lines beneath the series
  const yLine = g.append("g").attr("transform", `translate(${plotLeft},0)`).call(yAxis);
  yLine.selectAll(".tick").remove();
  yLine.select(".domain").attr("stroke", axisGrey).attr("stroke-width", 1.3);
  const xLine = g.append("g").attr("transform", `translate(0,${y(0)})`).call(xAxis);
  xLine.selectAll(".tick").remove();
  xLine.select(".domain").attr("stroke", axisGrey).attr("stroke-width", 1.6);

  // series
  const line = d3.line().x((d, i) => cx(i)).y(d => y(d));
  p.data.forEach((vals, s) => drawSeriesPath(g, line(vals), seriesColors[s], s === 0));

  // tick labels
  const yText = g.append("g").attr("transform", `translate(${plotLeft},0)`).call(yAxis)
    .attr("font-family", "Lato, sans-serif").attr("font-size", 24);
  yText.select(".domain").remove();
  yText.selectAll("text").attr("fill", "#000");

  const xText = g.append("g").attr("transform", `translate(0,${y(0)})`).call(xAxis)
    .attr("font-family", "Lato, sans-serif").attr("font-size", 15);
  xText.select(".domain").remove();
  xText.selectAll("text").attr("fill", "#000").attr("y", 0).attr("dy", "0.35em")
    .attr("text-anchor", "end").attr("transform", "translate(4,30) rotate(-45)");

  // axis title
  g.append("text")
    .attr("transform", `translate(${p.yTitleX},${(y.range()[0] + y.range()[1]) / 2}) rotate(-90)`)
    .attr("text-anchor", "middle").attr("dy", "0.35em")
    .attr("font-family", "DejaVu Sans, sans-serif").attr("font-weight", "bold").attr("font-size", 19.5)
    .text("Style Weights");

  // chart title
  p.title.forEach((t, j) => {
    g.append("text").attr("x", 557).attr("y", top + 49 + j * 38)
      .attr("text-anchor", "middle").attr("font-family", "Lato, sans-serif")
      .attr("font-weight", 700).attr("font-size", 27)
      .attr("textLength", p.titleWidths[j]).attr("lengthAdjust", "spacingAndGlyphs")
      .text(t);
  });

  // legend
  seriesNames.forEach((name, s) => {
    const ly = top + 139 + s * 30;
    drawSeriesPath(g, `M940,${ly}H995`, seriesColors[s], s === 0);
    g.append("text").attr("x", 1001).attr("y", ly).attr("dy", "0.35em")
      .attr("font-family", "Lato, sans-serif").attr("font-size", 24).attr("fill", "#000")
      .text(name);
  });
});
</script>
</body>
</html>
